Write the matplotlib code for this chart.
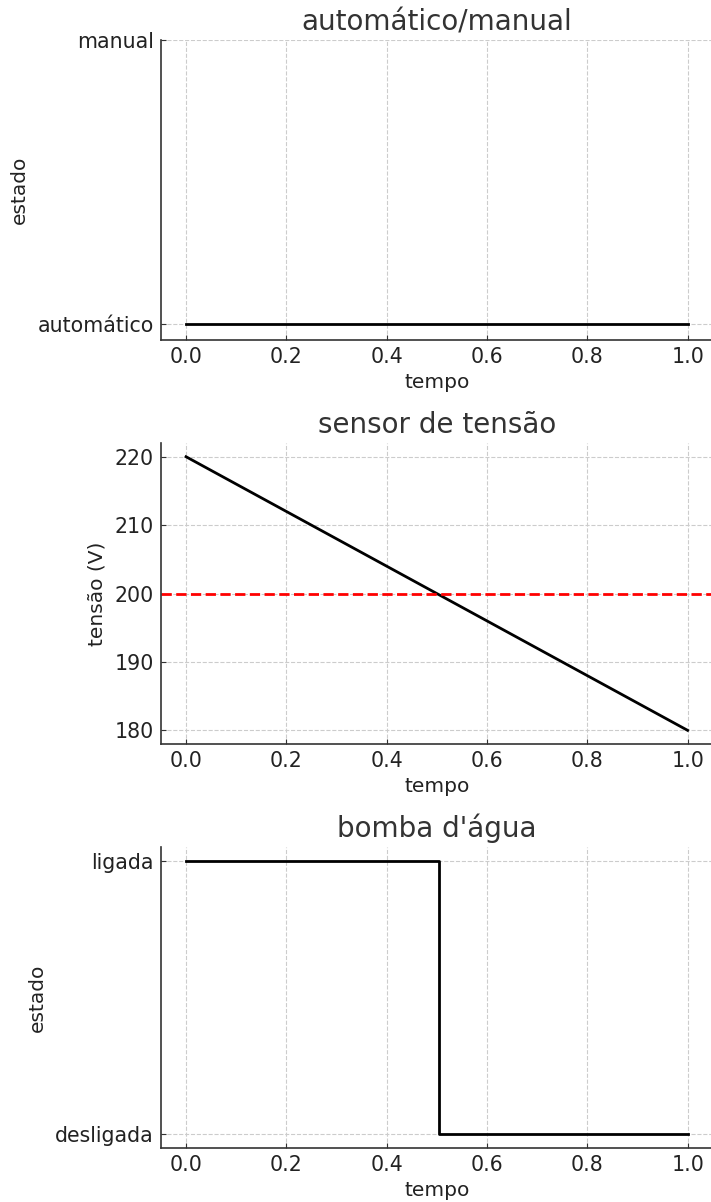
import matplotlib
matplotlib.use("Agg")
import matplotlib.pyplot as plt

# ---------------------------------------------------------------------------
# Data
# ---------------------------------------------------------------------------

tempo_modo   = [0.0, 1.0]
modo         = [0, 0]            # 0 = automático, 1 = manual
modo_labels  = ["automático", "manual"]

tempo_tensao = [0.0, 1.0]
tensao       = [220, 180]
limite       = 200

tempo_bomba  = [0.0, 0.505, 1.0]
bomba        = [1, 0, 0]         # 1 = ligada, 0 = desligada
bomba_labels = ["desligada", "ligada"]

xticks = [0.0, 0.2, 0.4, 0.6, 0.8, 1.0]

# ---------------------------------------------------------------------------
# Style
# ---------------------------------------------------------------------------

TEXT = "#222222"
plt.rcParams.update({
    "font.family": "DejaVu Sans",
    "axes.edgecolor": "#333333",
    "axes.linewidth": 1.2,
    "xtick.direction": "in",
    "ytick.direction": "in",
    "xtick.color": "#333333",
    "ytick.color": "#333333",
    "xtick.labelcolor": TEXT,
    "ytick.labelcolor": TEXT,
    "xtick.labelsize": 14.8,
    "ytick.labelsize": 14.8,
    "xtick.major.pad": 5,
    "ytick.major.pad": 5,
    "axes.labelsize": 14.5,
    "axes.labelcolor": TEXT,
})

fig = plt.figure(figsize=(7.11, 12.02), dpi=100)
ax1 = fig.add_axes([0.2264, 0.7171, 0.776, 0.2496])
ax2 = fig.add_axes([0.2264, 0.3810, 0.776, 0.2504])
ax3 = fig.add_axes([0.2264, 0.0449, 0.776, 0.2504])


def style(ax, title, ylabel):
    ax.set_title(title, fontsize=20, color="#333333", pad=7)
    ax.set_xlabel("tempo", labelpad=4)
    ax.set_ylabel(ylabel, labelpad=6)
    ax.set_xticks(xticks)
    ax.grid(True, linestyle="--", color="#cccccc", linewidth=0.8)
    ax.set_axisbelow(True)
    for s in ("top", "right"):
        ax.spines[s].set_visible(False)


# automático/manual
ax1.plot(tempo_modo, modo, color="black", lw=2)
ax1.set_yticks([0, 1])
ax1.set_yticklabels(modo_labels)
style(ax1, "automático/manual", "estado")

# sensor de tensão
ax2.plot(tempo_tensao, tensao, color="black", lw=2)
ax2.axhline(limite, color="red", ls="--", lw=2)
ax2.set_yticks([180, 190, 200, 210, 220])
style(ax2, "sensor de tensão", "tensão (V)")

# bomba d'água
ax3.step(tempo_bomba, bomba, where="post", color="black", lw=2)
ax3.set_yticks([0, 1])
ax3.set_yticklabels(bomba_labels)
style(ax3, "bomba d'água", "estado")

fig.savefig("out.png", dpi=100)
